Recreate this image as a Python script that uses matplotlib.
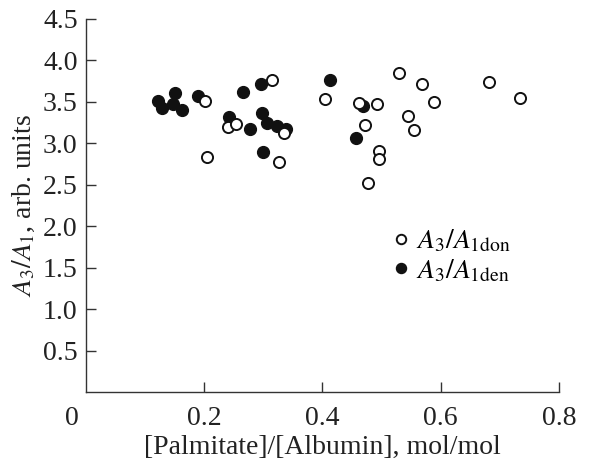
import matplotlib.pyplot as plt

plt.rcParams['font.family'] = 'Liberation Serif'
plt.rcParams['mathtext.fontset'] = 'stix'

# A3/A1 don (open circles)
don_x = [0.202, 0.205, 0.240, 0.253, 0.314, 0.335, 0.326, 0.404, 0.529, 0.568,
         0.461, 0.493, 0.589, 0.545, 0.472, 0.554, 0.496, 0.496, 0.477, 0.682, 0.734]
don_y = [3.51, 2.83, 3.20, 3.23, 3.76, 3.12, 2.77, 3.54, 3.85, 3.72,
         3.49, 3.47, 3.50, 3.33, 3.22, 3.16, 2.91, 2.81, 2.52, 3.74, 3.55]

# A3/A1 den (filled circles)
den_x = [0.122, 0.128, 0.151, 0.148, 0.162, 0.189, 0.242, 0.265, 0.296,
         0.277, 0.297, 0.306, 0.323, 0.339, 0.300, 0.413, 0.469, 0.456]
den_y = [3.51, 3.43, 3.61, 3.48, 3.40, 3.57, 3.32, 3.62, 3.72,
         3.17, 3.37, 3.25, 3.21, 3.17, 2.90, 3.76, 3.45, 3.06]

xticks = [0.2, 0.4, 0.6, 0.8]
yticks = [0.5, 1.0, 1.5, 2.0, 2.5, 3.0, 3.5, 4.0, 4.5]

fs = 20
fig = plt.figure(figsize=(5.95, 4.63), dpi=100)
ax = fig.add_axes([0.1445, 0.1533, 0.795, 0.8057])

ax.plot(den_x, den_y, 'o', color='#111111', ms=8.5, mec='#111111', mew=1.0,
        label=r'$\mathit{A}_3/\mathit{A}_{\mathrm{1den}}$', zorder=3)
ax.plot(don_x, don_y, 'o', color='white', ms=8.0, mec='#111111', mew=1.4,
        label=r'$\mathit{A}_3/\mathit{A}_{\mathrm{1don}}$', zorder=4)

ax.set_xlim(0, 0.8)
ax.set_ylim(0, 4.5)
ax.set_xticks(xticks)
ax.set_xticklabels(['0.2', '0.4', '0.6', '0.8'])
ax.set_yticks(yticks)
ax.set_yticklabels(['%.1f' % v for v in yticks])
ax.tick_params(direction='in', length=7, width=1, colors='#333333',
               labelcolor='#222222', labelsize=fs)
ax.tick_params(axis='x', pad=10)
ax.tick_params(axis='y', pad=6)
for s in ['top', 'right']:
    ax.spines[s].set_visible(False)
for s in ['left', 'bottom']:
    ax.spines[s].set_color('#333333')
    ax.spines[s].set_linewidth(1.0)

ax.annotate('0', xy=(0, 0), xycoords='data', xytext=(-10, -10),
            textcoords='offset points', ha='center', va='top',
            fontsize=fs, color='#222222', annotation_clip=False)

ax.set_xlabel('[Palmitate]/[Albumin], mol/mol', fontsize=fs, color='#222222', labelpad=3)
ax.set_ylabel(r'$\mathit{A}_3/\mathit{A}_1$, arb. units', fontsize=fs, color='#222222', labelpad=4)

h, l = ax.get_legend_handles_labels()
ax.legend(h[::-1], l[::-1], loc='upper left', bbox_to_anchor=(0.628, 0.469),
          frameon=False, fontsize=fs, markerscale=0.85, handlelength=0.5,
          handletextpad=0.3, labelspacing=0.1, borderaxespad=0)

fig.savefig('out.png', dpi=100)
